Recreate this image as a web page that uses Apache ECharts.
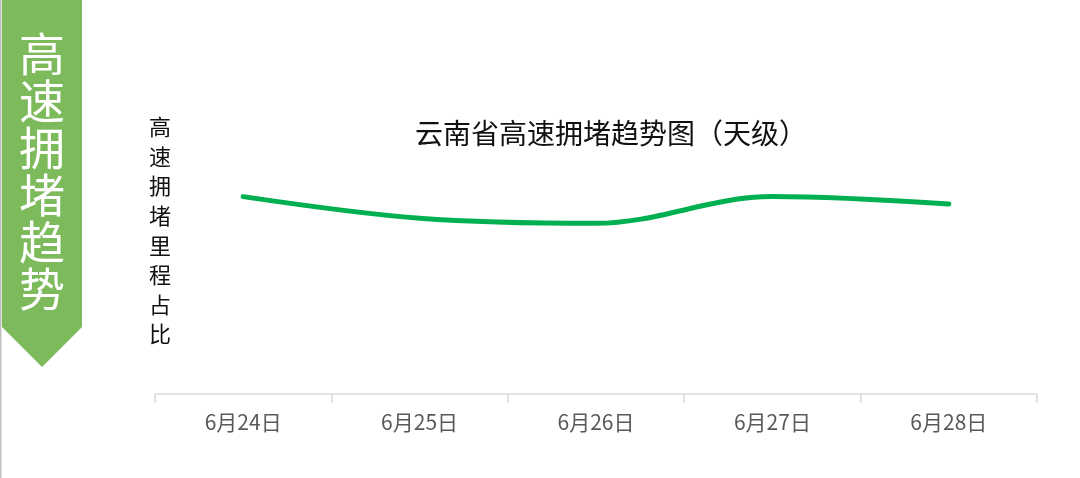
<!DOCTYPE html>
<html>
<head>
<meta charset="utf-8">
<script src="https://cdn.jsdelivr.net/npm/echarts@6/dist/echarts.min.js"></script>
<style>
html,body{margin:0;padding:0;background:#fff;}
#c{width:1080px;height:478px;}
</style>
</head>
<body>
<div id="c"></div>
<script>
const categories = ['6月24日', '6月25日', '6月26日', '6月27日', '6月28日'];
const congestionShare = [65.8, 58.6, 56.9, 65.8, 63.3];
const bannerText = '高速拥堵趋势';
const titleText = '云南省高速拥堵趋势图（天级）';
const yAxisName = '高速拥堵里程占比';

const FONT = '"Noto Sans CJK SC", "Microsoft YaHei", sans-serif';
const chart = echarts.init(document.getElementById('c'));
chart.setOption({
  backgroundColor: '#ffffff',
  animation: false,
  title: {
    text: titleText,
    left: 606,
    top: 114,
    textAlign: 'center',
    textStyle: { fontFamily: FONT, fontSize: 28, fontWeight: 'normal', color: '#111111' }
  },
  grid: { left: 155, right: 43, top: 94, bottom: 84 },
  xAxis: {
    type: 'category',
    data: categories,
    boundaryGap: true,
    axisLine: { lineStyle: { color: '#d9d9d9', width: 1.5 } },
    axisTick: { show: true, length: 9, lineStyle: { color: '#d9d9d9', width: 1.5 } },
    axisLabel: { margin: 18, fontFamily: FONT, fontSize: 21, color: '#595959' }
  },
  yAxis: {
    type: 'value',
    min: 0,
    max: 100,
    show: false
  },
  series: [{
    type: 'line',
    data: congestionShare,
    smooth: 0.35,
    showSymbol: false,
    symbol: 'none',
    lineStyle: { color: '#00B050', width: 5, cap: 'round', join: 'round' }
  }],
  graphic: [
    { type: 'rect', shape: { x: 0, y: 0, width: 1.5, height: 478 }, style: { fill: '#bfbfbf' } },
    { type: 'polygon', shape: { points: [[2, 0], [82, 0], [82, 327], [42, 367], [2, 327]] }, style: { fill: '#7CBA5C' } },
    {
      type: 'text', x: 42, y: 30,
      style: {
        text: bannerText.split('').join('\n'),
        fill: '#ffffff', font: '46px ' + FONT, lineHeight: 47,
        textAlign: 'center', textVerticalAlign: 'top'
      }
    },
    {
      type: 'text', x: 160, y: 112,
      style: {
        text: yAxisName.split('').join('\n'),
        fill: '#111111', font: '22px ' + FONT, lineHeight: 29.6,
        textAlign: 'center', textVerticalAlign: 'top'
      }
    }
  ]
});
</script>
</body>
</html>
